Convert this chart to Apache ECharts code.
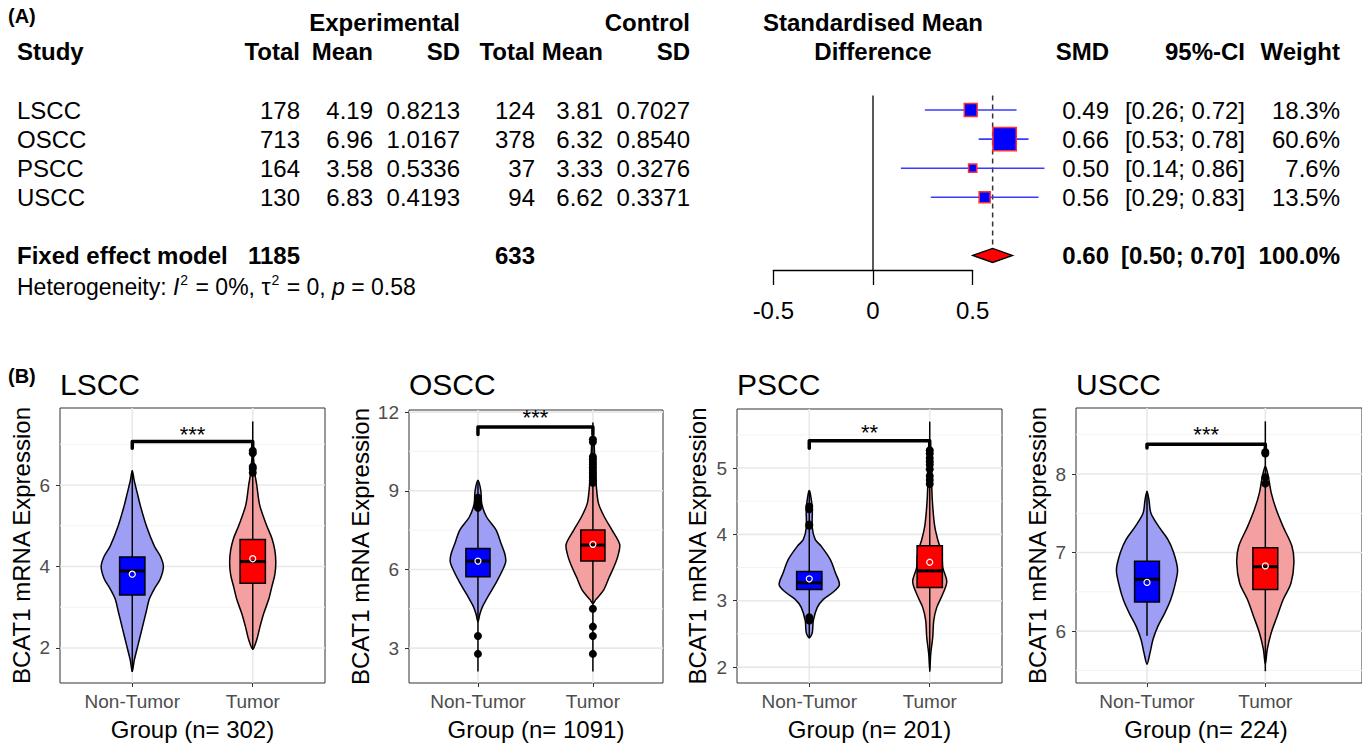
<!DOCTYPE html>
<html>
<head>
<meta charset="utf-8">
<title>BCAT1 forest plot and violin plots</title>
<script src="https://cdn.jsdelivr.net/npm/echarts@6/dist/echarts.min.js"></script>
<style>
  html, body { margin: 0; padding: 0; background: #fff; }
  #chart { width: 1362px; height: 743px; }
</style>
</head>
<body>
<div id="chart"></div>
<script>
// ---------- (A) meta-analysis table ----------
const studies = ['LSCC', 'OSCC', 'PSCC', 'USCC'];
const expTotal = [178, 713, 164, 130];
const expMean = [4.19, 6.96, 3.58, 6.83];
const expSD = [0.8213, 1.0167, 0.5336, 0.4193];
const ctlTotal = [124, 378, 37, 94];
const ctlMean = [3.81, 6.32, 3.33, 6.62];
const ctlSD = [0.7027, 0.8540, 0.3276, 0.3371];
const smd = [0.49, 0.66, 0.50, 0.56];
const ciLow = [0.26, 0.53, 0.14, 0.29];
const ciHigh = [0.72, 0.78, 0.86, 0.83];
const weight = [18.3, 60.6, 7.6, 13.5];
const fixedModel = [0.60, 0.50, 0.70]; // SMD, lower, upper
const forestTicks = [-0.5, 0, 0.5];

// ---------- (B) violin plots ----------
const groups = ['Non-Tumor', 'Tumor'];
const yRange = [[1.14, 7.89], [1.67, 12.08], [1.76, 5.89], [5.34, 8.84]];
const yTicks = [[2, 4, 6], [3, 6, 9, 12], [2, 3, 4, 5], [6, 7, 8]];
const yMinor = [[3, 5, 7], [4.5, 7.5, 10.5], [2.5, 3.5, 4.5, 5.5], [5.5, 6.5, 7.5, 8.5]];

// [line low, Q1, median, Q3, line high] for Non-Tumor, Tumor
const boxLSCC = [[1.41, 3.30, 3.89, 4.23, 6.36], [1.96, 3.59, 4.12, 4.66, 7.56]];
const boxOSCC = [[2.11, 5.72, 6.32, 6.80, 9.40], [2.11, 6.32, 6.93, 7.50, 11.60]];
const boxPSCC = [[2.44, 3.17, 3.27, 3.44, 4.65], [1.93, 3.20, 3.45, 3.83, 5.70]];
const boxUSCC = [[5.94, 6.37, 6.66, 6.89, 7.78], [5.49, 6.53, 6.82, 7.06, 8.67]];

// violin outline: [expression, density half width]
const violinLSCC = [
  [[1.42, 0], [1.7, 2], [2.1, 6], [2.5, 10], [2.9, 14], [3.2, 17], [3.45, 22], [3.7, 28], [4.0, 31], [4.25, 28], [4.5, 22], [5.0, 14], [5.5, 8], [5.8, 5], [6.1, 2], [6.35, 0]],
  [[1.97, 0], [2.2, 4], [2.5, 7], [2.85, 11], [3.2, 16], [3.5, 19], [3.8, 22], [4.1, 23], [4.4, 22], [4.7, 19], [5.0, 14], [5.5, 7], [6.0, 4], [6.3, 2], [6.6, 1], [6.85, 0]]
];
const violinOSCC = [
  [[4.0, 0], [4.3, 2], [4.6, 5], [5.0, 11], [5.5, 19], [6.0, 26], [6.3, 29], [6.6, 28], [7.0, 24], [7.5, 19], [8.0, 9], [8.5, 4], [9.0, 3], [9.4, 0]],
  [[4.7, 0], [4.85, 3], [5.2, 11], [5.7, 17], [6.1, 22], [6.5, 26], [6.95, 28], [7.5, 20], [8.0, 12], [8.5, 6], [9.0, 4], [9.5, 3], [10.2, 2], [10.9, 1], [11.0, 0]]
];
const violinPSCC = [
  [[2.44, 0], [2.52, 3], [2.7, 4], [2.9, 8], [3.02, 14], [3.12, 23], [3.24, 30], [3.42, 26], [3.62, 21], [3.82, 12], [3.92, 6], [4.1, 3], [4.4, 3], [4.62, 1], [4.66, 0]],
  [[1.95, 0], [2.2, 1], [2.45, 3], [2.7, 4], [2.9, 7], [3.1, 13], [3.29, 17], [3.5, 13], [3.72, 12], [3.92, 8], [4.12, 5], [4.42, 3], [4.72, 2], [5.0, 2], [5.25, 0]]
];
const violinUSCC = [
  [[5.58, 0], [5.72, 3], [5.89, 6], [6.06, 11], [6.23, 18], [6.4, 24], [6.57, 28], [6.78, 31], [7.0, 27], [7.17, 21], [7.33, 12], [7.5, 4], [7.67, 2], [7.78, 0]],
  [[5.58, 0], [5.77, 2], [5.98, 6], [6.19, 12], [6.4, 18], [6.61, 26], [6.87, 29], [7.08, 27], [7.33, 18], [7.55, 11], [7.76, 6], [7.97, 3], [8.1, 0]]
];

const outLSCC = [[], [6.84, 6.78, 6.45, 6.40, 6.30]];
const outOSCC = [[8.74, 8.65, 8.55, 8.45, 8.35, 3.46, 2.78],
  [10.96, 10.86, 10.3, 10.2, 10.1, 10.0, 9.9, 9.8, 9.7, 9.6, 9.5, 9.4, 9.3, 4.5, 3.82, 3.46, 2.78]];
const outPSCC = [[4.42, 4.38, 4.15, 4.13, 2.75, 2.70], [5.27, 5.22, 5.15, 5.10, 5.05, 4.98, 4.88, 4.82, 4.76]];
const outUSCC = [[], [8.28, 8.26, 7.96, 7.88]];

const signif = ['***', '***', '**', '***'];
const bracketY = [7.07, 11.43, 5.41, 8.38];
const bracketTip = [6.90, 11.15, 5.30, 8.33];
const starY = [7.35, 11.93, 5.59, 8.56];

// ---------- layout / style ----------
const FONT = '"Liberation Sans", Arial, Helvetica, sans-serif';
const boxes = [boxLSCC, boxOSCC, boxPSCC, boxUSCC];
const violins = [violinLSCC, violinOSCC, violinPSCC, violinUSCC];
const outliers = [outLSCC, outOSCC, outPSCC, outUSCC];
const violinFill = ['#9E9EF5', '#F5A0A0'];
const boxFill = ['#0000FF', '#FF0000'];
const violinScale = 1 / 120;   // density width -> category units
const boxHalf = 0.105;

const forestGrid = { left: 773.3, top: 95.5, width: 199.4, height: 174.5 };
const panelGrid = [
  { left: 60, top: 408, width: 265, height: 275 },
  { left: 409, top: 410, width: 254, height: 273 },
  { left: 737, top: 409, width: 265, height: 274 },
  { left: 1076, top: 408, width: 290, height: 275 }
];
const xMin = 0.4;
const xMax = [2.6, 2.61, 2.6, 2.817];
const yNameGap = [27, 37, 28, 27];

const chart = echarts.init(document.getElementById('chart'), null, { renderer: 'svg' });

function txt(str, x, y, align, bold, size) {
  return {
    type: 'text', x: x, y: y, silent: true,
    style: {
      text: str, textAlign: align || 'left', textVerticalAlign: 'middle',
      fontSize: size || 24, fontWeight: bold ? 'bold' : 'normal', fontFamily: FONT, fill: '#000'
    }
  };
}

// table columns (right aligned except study)
const col = { study: 17, eT: 300, eM: 373, eS: 460, cT: 535, cM: 603, cS: 690, smd: 1109, ci: 1245, w: 1340 };
const rowH = forestGrid.height / 6;
const rowY = r => forestGrid.top + (r + 0.5) * rowH;
const sum = a => a.reduce((s, v) => s + v, 0);
const ciText = (lo, hi) => '[' + lo.toFixed(2) + '; ' + hi.toFixed(2) + ']';

const graphics = [
  txt('(A)', 8, 16, 'left', true, 20),
  txt('(B)', 8, 376, 'left', true, 20),
  txt('Experimental', col.eS, 22, 'right', true),
  txt('Control', col.cS, 22, 'right', true),
  txt('Standardised Mean', 873, 22, 'center', true),
  txt('Study', col.study, 51, 'left', true),
  txt('Total', col.eT, 51, 'right', true),
  txt('Mean', col.eM, 51, 'right', true),
  txt('SD', col.eS, 51, 'right', true),
  txt('Total', col.cT, 51, 'right', true),
  txt('Mean', col.cM, 51, 'right', true),
  txt('SD', col.cS, 51, 'right', true),
  txt('Difference', 873, 51, 'center', true),
  txt('SMD', col.smd, 51, 'right', true),
  txt('95%-CI', col.ci, 51, 'right', true),
  txt('Weight', col.w, 51, 'right', true)
];
studies.forEach((s, i) => {
  const y = rowY(i);
  graphics.push(
    txt(s, col.study, y, 'left'),
    txt(String(expTotal[i]), col.eT, y, 'right'),
    txt(expMean[i].toFixed(2), col.eM, y, 'right'),
    txt(expSD[i].toFixed(4), col.eS, y, 'right'),
    txt(String(ctlTotal[i]), col.cT, y, 'right'),
    txt(ctlMean[i].toFixed(2), col.cM, y, 'right'),
    txt(ctlSD[i].toFixed(4), col.cS, y, 'right'),
    txt(smd[i].toFixed(2), col.smd, y, 'right'),
    txt(ciText(ciLow[i], ciHigh[i]), col.ci, y, 'right'),
    txt(weight[i].toFixed(1) + '%', col.w, y, 'right')
  );
});
const yFixed = rowY(5);
graphics.push(
  txt('Fixed effect model', col.study, yFixed, 'left', true),
  txt(String(sum(expTotal)), col.eT, yFixed, 'right', true),
  txt(String(sum(ctlTotal)), col.cT, yFixed, 'right', true),
  txt(fixedModel[0].toFixed(2), col.smd, yFixed, 'right', true),
  txt(ciText(fixedModel[1], fixedModel[2]), col.ci, yFixed, 'right', true),
  txt(sum(weight).toFixed(1) + '%', col.w, yFixed, 'right', true),
  {
    type: 'text', x: col.study, y: 287, silent: true,
    style: {
      text: 'Heterogeneity: {it|I}{sup|2} = 0%, \u03c4{sup|2} = 0, {it|p} = 0.58',
      textAlign: 'left', textVerticalAlign: 'middle',
      fontSize: 23, fontFamily: FONT, fill: '#000',
      rich: {
        it: { fontStyle: 'italic', fontSize: 23, fontFamily: FONT, fill: '#000' },
        sup: { fontSize: 14, fontFamily: FONT, fill: '#000', padding: [0, 1, 14, 1] }
      }
    }
  }
);
panelGrid.forEach((g, p) => graphics.push(txt(studies[p], g.left, 384, 'left', false, 30)));

// ---------- axes ----------
const grids = [Object.assign({ containLabel: false }, forestGrid)];
const xAxes = [{
  gridIndex: 0, type: 'value', min: -0.5, max: 0.5, interval: 0.5,
  axisLine: { show: true, onZero: false, lineStyle: { color: '#000', width: 1.3 } },
  axisTick: { show: true, length: 15, lineStyle: { color: '#000', width: 1.3 } },
  axisLabel: { color: '#000', fontSize: 24, fontFamily: FONT, margin: 28, customValues: forestTicks },
  splitLine: { show: false }
}];
const yAxes = [{
  gridIndex: 0, type: 'value', min: -0.5, max: 5.5, inverse: true, show: false
}];

panelGrid.forEach((g, p) => {
  grids.push(Object.assign({ show: true, borderColor: '#333', borderWidth: 1, backgroundColor: 'transparent' }, g));
  const nTotal = expTotal[p] + ctlTotal[p];
  xAxes.push({
    gridIndex: p + 1, type: 'value', min: xMin, max: xMax[p],
    axisLine: { show: false, onZero: false },
    axisTick: { show: true, length: 4, customValues: [1, 2], lineStyle: { color: '#333', width: 1 } },
    axisLabel: {
      customValues: [1, 2], color: '#4D4D4D', fontSize: 19, fontFamily: FONT, margin: 9,
      formatter: v => groups[Math.round(v) - 1]
    },
    splitLine: { show: false },
    name: 'Group (n= ' + nTotal + ')', nameLocation: 'middle', nameGap: 34,
    nameTextStyle: { color: '#000', fontSize: 24, fontFamily: FONT, padding: p === 3 ? [0, 26, 0, 0] : 0 }
  });
  yAxes.push({
    gridIndex: p + 1, type: 'value', min: yRange[p][0], max: yRange[p][1],
    axisLine: { show: false, onZero: false },
    axisTick: { show: true, length: 4, customValues: yTicks[p], lineStyle: { color: '#333', width: 1 } },
    axisLabel: { customValues: yTicks[p], color: '#4D4D4D', fontSize: 19, fontFamily: FONT, margin: 10 },
    splitLine: { show: false },
    name: 'BCAT1 mRNA Expression', nameLocation: 'middle', nameGap: yNameGap[p],
    nameTextStyle: { color: '#000', fontSize: 24, fontFamily: FONT }
  });
});

// ---------- series ----------
const series = [];

// forest: reference line, dashed pooled line and diamond
series.push({
  type: 'custom', xAxisIndex: 0, yAxisIndex: 0, silent: true, z: 2,
  data: [[fixedModel[0], 5, fixedModel[1], fixedModel[2]]],
  renderItem: (params, api) => {
    const est = api.value(0), row = api.value(1);
    const z0 = api.coord([0, -0.5]), z1 = api.coord([0, 5.5]);
    const c = api.coord([est, row]);
    const top = api.coord([est, -0.5]);
    const l = api.coord([api.value(2), row]), r = api.coord([api.value(3), row]);
    const h = 7;
    return {
      type: 'group', children: [
        { type: 'line', shape: { x1: z0[0], y1: z0[1], x2: z1[0], y2: z1[1] }, style: { stroke: '#000', lineWidth: 1.3 } },
        { type: 'line', shape: { x1: c[0], y1: top[1], x2: c[0], y2: c[1] - h }, style: { stroke: '#333', lineWidth: 1.5, lineDash: [5, 4] } },
        { type: 'polygon', shape: { points: [l, [c[0], c[1] - h], r, [c[0], c[1] + h]] }, style: { fill: '#FF0000', stroke: '#000', lineWidth: 1.3 } }
      ]
    };
  }
});
// forest: study estimates
series.push({
  type: 'custom', xAxisIndex: 0, yAxisIndex: 0, silent: true, z: 3,
  data: studies.map((s, i) => [smd[i], i, ciLow[i], ciHigh[i], weight[i]]),
  renderItem: (params, api) => {
    const row = api.value(1);
    const c = api.coord([api.value(0), row]);
    const lo = api.coord([api.value(2), row]), hi = api.coord([api.value(3), row]);
    const side = 3 * Math.sqrt(api.value(4));
    return {
      type: 'group', children: [
        { type: 'line', shape: { x1: lo[0], y1: lo[1], x2: hi[0], y2: hi[1] }, style: { stroke: '#3A3AFF', lineWidth: 1.6 } },
        { type: 'rect', shape: { x: c[0] - side / 2, y: c[1] - side / 2, width: side, height: side }, style: { fill: '#0000FF', stroke: '#FF3030', lineWidth: 1.5 } }
      ]
    };
  }
});

panelGrid.forEach((g, p) => {
  const ax = { xAxisIndex: p + 1, yAxisIndex: p + 1, silent: true };
  const yMid = (yRange[p][0] + yRange[p][1]) / 2;

  // background grid lines
  const gl = [];
  yTicks[p].forEach(v => gl.push([1.5, v, 0, 0]));
  yMinor[p].forEach(v => gl.push([1.5, v, 0, 1]));
  [1, 2].forEach(v => gl.push([v, yMid, 1, 0]));
  series.push(Object.assign({
    type: 'custom', z: 1, data: gl,
    renderItem: (params, api) => {
      const cs = params.coordSys;
      const style = api.value(3) ? { stroke: '#F3F3F3', lineWidth: 1 } : { stroke: '#E8E8E8', lineWidth: 1.6 };
      const pt = api.coord([api.value(0), api.value(1)]);
      if (api.value(2)) {
        return { type: 'line', shape: { x1: pt[0], y1: cs.y, x2: pt[0], y2: cs.y + cs.height }, style: style };
      }
      return { type: 'line', shape: { x1: cs.x, y1: pt[1], x2: cs.x + cs.width, y2: pt[1] }, style: style };
    }
  }, ax));

  // violins
  series.push(Object.assign({
    type: 'custom', z: 2,
    data: [[1, yMid, 0], [2, yMid, 1]],
    renderItem: (params, api) => {
      const x = api.value(0), gi = api.value(2);
      const prof = violins[p][gi];
      const right = prof.map(d => api.coord([x + d[1] * violinScale, d[0]]));
      const left = prof.slice(1, -1).reverse().map(d => api.coord([x - d[1] * violinScale, d[0]]));
      return {
        type: 'polygon', shape: { points: right.concat(left), smooth: 0.3 },
        style: { fill: violinFill[gi], stroke: '#000', lineWidth: 1.5 }
      };
    }
  }, ax));

  // lines + boxes + medians + means
  const means = [ctlMean[p], expMean[p]];
  series.push(Object.assign({
    type: 'custom', z: 3,
    data: boxes[p].map((b, gi) => [gi + 1].concat(b, [means[gi], gi])),
    renderItem: (params, api) => {
      const x = api.value(0), gi = api.value(7);
      const lo = api.coord([x, api.value(1)]), hi = api.coord([x, api.value(5)]);
      const tl = api.coord([x - boxHalf, api.value(4)]), br = api.coord([x + boxHalf, api.value(2)]);
      const ml = api.coord([x - boxHalf, api.value(3)]), mr = api.coord([x + boxHalf, api.value(3)]);
      const mn = api.coord([x, api.value(6)]);
      return {
        type: 'group', children: [
          { type: 'line', shape: { x1: lo[0], y1: lo[1], x2: hi[0], y2: hi[1] }, style: { stroke: '#000', lineWidth: 1.5 } },
          { type: 'rect', shape: { x: tl[0], y: tl[1], width: br[0] - tl[0], height: br[1] - tl[1] }, style: { fill: boxFill[gi], stroke: '#000', lineWidth: 1.5 } },
          { type: 'line', shape: { x1: ml[0], y1: ml[1], x2: mr[0], y2: mr[1] }, style: { stroke: '#000', lineWidth: 3 } },
          { type: 'circle', shape: { cx: mn[0], cy: mn[1], r: 3 }, style: { fill: 'none', stroke: '#FFFFFF', lineWidth: 1.2 } }
        ]
      };
    }
  }, ax));

  // outliers
  const pts = [];
  outliers[p].forEach((arr, gi) => arr.forEach(v => pts.push([gi + 1, v])));
  series.push(Object.assign({
    type: 'scatter', z: 4, data: pts, symbol: 'circle', symbolSize: 8,
    itemStyle: { color: '#000', opacity: 1 }
  }, ax));

  // significance bracket
  series.push(Object.assign({
    type: 'custom', z: 5,
    data: [[1.5, bracketY[p], bracketTip[p], starY[p]]],
    renderItem: (params, api) => {
      const bar = api.value(1), tip = api.value(2);
      const pts2 = [api.coord([1, tip]), api.coord([1, bar]), api.coord([2, bar]), api.coord([2, tip])];
      const s = api.coord([1.5, api.value(3)]);
      return {
        type: 'group', children: [
          { type: 'polyline', shape: { points: pts2 }, style: { stroke: '#000', lineWidth: 3.5, fill: 'none', lineCap: 'round', lineJoin: 'round' } },
          { type: 'text', x: s[0], y: s[1] + 4, style: { text: signif[p], textAlign: 'center', textVerticalAlign: 'middle', fontSize: 22, fontFamily: FONT, fill: '#000' } }
        ]
      };
    }
  }, ax));
});

chart.setOption({
  animation: false,
  backgroundColor: '#fff',
  textStyle: { fontFamily: FONT },
  grid: grids,
  xAxis: xAxes,
  yAxis: yAxes,
  graphic: { elements: graphics },
  series: series
});
</script>
</body>
</html>
